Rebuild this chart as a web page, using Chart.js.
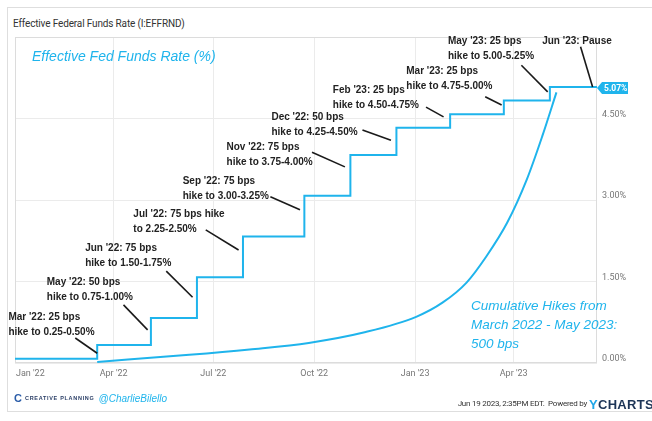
<!DOCTYPE html>
<html>
<head>
<meta charset="utf-8">
<title>Effective Federal Funds Rate (I:EFFRND)</title>
<script src="https://cdn.jsdelivr.net/npm/chart.js@4.4.0/dist/chart.umd.min.js"></script>
<style>
  body { margin: 0; background: #fff; font-family: Roboto, "Liberation Sans", sans-serif; }
  #page { position: relative; width: 652px; height: 421px; overflow: hidden; }
  #frame { position: absolute; left: 7px; top: 7px; width: 700px; height: 405px; border: 1px solid #dedede; box-sizing: border-box; }
  #title { position: absolute; left: 13px; top: 18px; font-size: 10px; color: #333; letter-spacing: -0.15px; }
  #chart { position: absolute; left: 0; top: 0; }
  #brand { position: absolute; left: 14px; top: 391px; height: 14px; display: flex; align-items: center; }
  #brand .logo { font: bold 11px "Liberation Sans"; color: #2a5ca8; margin-right: 3px; }
  #brand .name { font: bold 5.5px "Liberation Sans"; color: #2a3e66; letter-spacing: 0.7px; margin-right: 4px; }
  #brand .handle { font: italic 10px "Liberation Sans"; color: #1fb4ec; }
  #stamp { position: absolute; right: 65px; top: 399px; font-size: 8px; color: #333; letter-spacing: -0.25px; white-space: nowrap; }
  #ycharts { position: absolute; left: 589px; top: 397px; font: bold 13px "Liberation Sans"; letter-spacing: 0.3px; color: #1d3557; }
  #ycharts span { color: #1fa6e8; }
</style>
</head>
<body>
<div id="page">
  <div id="frame"></div>
  <div id="title">Effective Federal Funds Rate (I:EFFRND)</div>
  <canvas id="chart" width="652" height="421"></canvas>
  <div id="brand"><span class="logo">C</span><span class="name">CREATIVE PLANNING</span><span class="handle">@CharlieBilello</span></div>
  <div id="stamp">Jun 19 2023, 2:35PM EDT.&nbsp; Powered by</div>
  <div id="ycharts"><span>Y</span>CHARTS</div>
</div>
<script>
// days counted from Jan 1 2022
const rateDays = [0, 75, 124, 166, 208, 264, 306, 348, 397, 446, 488, 531];
const rateValues = [0.08, 0.33, 0.83, 1.58, 2.33, 3.08, 3.83, 4.33, 4.58, 4.83, 5.08, 5.07];

const cumDays = [75, 159, 214, 268, 320, 366, 390, 412, 430, 449, 467, 481, 494];
const cumValues = [0.02, 0.15, 0.25, 0.37, 0.57, 0.85, 1.11, 1.48, 1.96, 2.58, 3.38, 4.17, 4.98];

const tickDays = [0, 90, 181, 273, 365, 455];
const tickLabels = ["Jan '22", "Apr '22", "Jul '22", "Oct '22", "Jan '23", "Apr '23"];
const rateTicks = [0, 1.5, 3, 4.5];

const BLUE = '#1fb4ec';

// hike callouts: text anchor and leader line, in (day, %) units
const notes = [
  { lines: ["Mar '22: 25 bps", "hike to 0.25-0.50%"], at: [-6, 0.85], from: [55, 0.46], to: [75, 0.18] },
  { lines: ["May '22: 50 bps", "hike to 0.75-1.00%"], at: [29, 1.49], from: [99, 1.07], to: [121, 0.61] },
  { lines: ["Jun '22: 75 bps", "hike to 1.50-1.75%"], at: [64, 2.12], from: [138, 1.69], to: [162, 1.21] },
  { lines: ["Jul '22: 75 bps hike", "to 2.25-2.50%"], at: [108, 2.74], from: [174, 2.45], to: [204, 2.08] },
  { lines: ["Sep '22: 75 bps", "hike to 3.00-3.25%"], at: [153, 3.35], from: [233, 3.06], to: [260, 2.82] },
  { lines: ["Nov '22: 75 bps", "hike to 3.75-4.00%"], at: [193, 3.98], from: [271, 3.88], to: [301, 3.61] },
  { lines: ["Dec '22: 50 bps", "hike to 4.25-4.50%"], at: [234, 4.53], from: [317, 4.29], to: [343, 4.10] },
  { lines: ["Feb '23: 25 bps", "hike to 4.50-4.75%"], at: [290, 5.02], from: [375, 4.71], to: [391, 4.53] },
  { lines: ["Mar '23: 25 bps", "hike to 4.75-5.00%"], at: [357, 5.37], from: [429, 4.90], to: [444, 4.75] },
  { lines: ["May '23: 25 bps", "hike to 5.00-5.25%"], at: [395, 5.93], from: [462, 5.48], to: [486, 4.99] },
  { lines: ["Jun '23: Pause"], at: [481, 5.93], from: [516, 5.82], to: [527, 5.08] }
];

const overlay = {
  id: 'overlay',
  beforeDatasetsDraw(chart) {
    const { ctx, chartArea: a } = chart;
    ctx.save();
    ctx.strokeStyle = '#dcdcdc';
    ctx.lineWidth = 1;
    ctx.strokeRect(a.left + 0.5, a.top + 0.5, a.width - 1, a.height - 1);
    ctx.restore();
  },
  afterDatasetsDraw(chart) {
    const { ctx, chartArea: a, scales: { x, y } } = chart;
    ctx.save();

    // callouts
    notes.forEach(n => {
      ctx.strokeStyle = '#1a1a1a';
      ctx.lineWidth = 1.6;
      ctx.beginPath();
      ctx.moveTo(x.getPixelForValue(n.from[0]), y.getPixelForValue(n.from[1]));
      ctx.lineTo(x.getPixelForValue(n.to[0]), y.getPixelForValue(n.to[1]));
      ctx.stroke();
      ctx.font = 'bold 10px "Liberation Sans"';
      ctx.fillStyle = '#222';
      ctx.textAlign = 'left';
      ctx.textBaseline = 'middle';
      const tx = x.getPixelForValue(n.at[0]);
      const ty = y.getPixelForValue(n.at[1]);
      n.lines.forEach((t, i) => ctx.fillText(t, tx, ty + i * 15));
    });

    // series captions
    ctx.fillStyle = BLUE;
    ctx.font = 'italic 14px "Liberation Sans"';
    ctx.fillText('Effective Fed Funds Rate (%)', a.left + 17, a.top + 20);
    ctx.font = 'italic 13.5px "Liberation Sans"';
    const cx = x.getPixelForValue(416);
    const cy = y.getPixelForValue(1.05);
    ['Cumulative Hikes from', 'March 2022 - May 2023:', '500 bps'].forEach((t, i) => ctx.fillText(t, cx, cy + i * 19));

    // last value tag
    const last = rateValues[rateValues.length - 1];
    const py = Math.round(y.getPixelForValue(last));
    const bx = a.right;
    ctx.fillStyle = BLUE;
    ctx.beginPath();
    ctx.moveTo(bx, py);
    ctx.lineTo(bx + 5, py - 6);
    ctx.lineTo(bx + 31, py - 6);
    ctx.lineTo(bx + 31, py + 6);
    ctx.lineTo(bx + 5, py + 6);
    ctx.closePath();
    ctx.fill();
    ctx.fillStyle = '#fff';
    ctx.font = 'bold 8.5px Roboto';
    ctx.fillText(last.toFixed(2) + '%', bx + 7, py + 0.5);
    ctx.restore();
  }
};

new Chart('chart', {
  type: 'line',
  data: {
    datasets: [
      {
        label: 'Effective Fed Funds Rate',
        data: rateDays.map((d, i) => ({ x: d, y: rateValues[i] })),
        stepped: true,
        borderColor: BLUE,
        borderWidth: 2,
        pointRadius: 0
      },
      {
        label: 'Cumulative Hikes',
        data: cumDays.map((d, i) => ({ x: d, y: cumValues[i] })),
        cubicInterpolationMode: 'monotone',
        borderColor: BLUE,
        borderWidth: 2,
        pointRadius: 0
      }
    ]
  },
  options: {
    responsive: false,
    animation: false,
    layout: { padding: { left: 15, top: 37, right: 0, bottom: 38 } },
    plugins: { legend: { display: false }, tooltip: { enabled: false } },
    scales: {
      x: {
        type: 'linear',
        min: 0,
        max: 531,
        // first label is nudged inward so it stays inside the frame
        afterBuildTicks: ax => { ax.ticks = tickDays.map((d, i) => ({ value: i === 0 ? d + 14 : d })); },
        afterFit: ax => { ax.height = 20; },
        ticks: {
          callback: (v, i) => tickLabels[i],
          font: { family: 'Roboto', size: 9 },
          color: '#777',
          padding: 5,
          maxRotation: 0,
          autoSkip: false
        },
        grid: { color: c => c.index === 0 ? 'rgba(0,0,0,0)' : '#ebebeb', drawTicks: false },
        border: { display: false }
      },
      y: {
        position: 'right',
        min: 0,
        max: 6,
        afterBuildTicks: ax => { ax.ticks = rateTicks.map(v => ({ value: v })); },
        afterFit: ax => { ax.width = 55; },
        ticks: {
          callback: v => v.toFixed(2) + '%',
          font: { family: 'Roboto', size: 9 },
          color: '#777',
          padding: 5,
          labelOffset: -4
        },
        grid: { color: '#ebebeb', drawTicks: false },
        border: { display: false }
      }
    }
  },
  plugins: [overlay]
});
</script>
</body>
</html>
